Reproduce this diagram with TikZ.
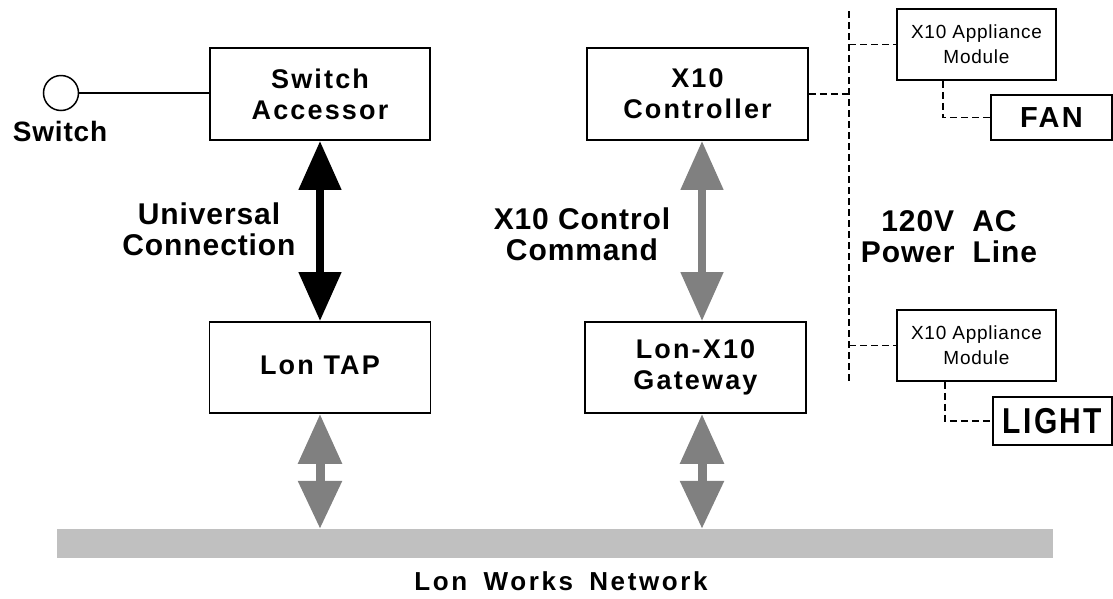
\documentclass[tikz,border=0pt]{standalone}
\usepackage{fontspec}
\setmainfont{Liberation Sans}
\newfontfamily\spacedfont{Liberation Sans}[LetterSpace=8]
\newfontfamily\netfont{Liberation Sans}[LetterSpace=10]
\newfontfamily\lblfont{Liberation Sans}[LetterSpace=3]
\newfontfamily\modfont{Liberation Sans}[LetterSpace=4]
\usetikzlibrary{arrows.meta,calc}
\definecolor{arrgray}{HTML}{808080}
\definecolor{bargray}{HTML}{C0C0C0}
\begin{document}
\begin{tikzpicture}[x=1pt,y=-1pt,
  box/.style={draw=black,line width=1.8pt,inner sep=0pt,align=center,
    font=\spacedfont\bfseries\fontsize{27}{31}\selectfont},
  modbox/.style={draw=black,line width=1.5pt,inner sep=0pt,align=center,
    minimum width=159pt,minimum height=71pt,
    font=\modfont\fontsize{19}{25}\selectfont},
  lbl/.style={inner sep=0pt,align=center,
    font=\lblfont\bfseries\fontsize{30}{31}\selectfont},
  dashln/.style={draw=black,line width=1.5pt,dash pattern=on 7pt off 4pt},
  bigarrow/.style={line width=8pt,
    {Triangle[length=49pt,width=41pt]}-{Triangle[length=49pt,width=41pt]}},
  smallarrow/.style={line width=9pt,
    {Triangle[length=50pt,width=42pt]}-{Triangle[length=48pt,width=42pt]}}
]
\useasboundingbox (0,0) rectangle (1113,598);

% boxes
\node[box,minimum width=220pt,minimum height=92pt] (sa) at (320,94) {Switch\\Accessor};
\node[box,minimum width=221pt,minimum height=91pt] (tap) at (320,367.5) {\raisebox{4pt}{Lon TAP}};
\node[box,minimum width=221pt,minimum height=92pt] (ctrl) at (697.5,94) {X10\\Controller};
\node[box,minimum width=221pt,minimum height=91pt] (gw) at (695.5,367.5) {Lon-X10\\Gateway};

\node[modbox] (mod1) at (976.5,44.5) {X10 Appliance\\Module};
\node[modbox] (mod2) at (976.5,345.5) {X10 Appliance\\Module};

\node[box,minimum width=121pt,minimum height=45pt,
  font=\spacedfont\bfseries\fontsize{29}{31}\selectfont] (fan) at (1051.5,117.5) {FAN};
\node[box,minimum width=119pt,minimum height=48pt,
  font=\spacedfont\bfseries\fontsize{30}{32}\selectfont] (light) at (1052.5,421) {\scalebox{1}[1.2]{LIGHT}};

% switch
\node[circle,draw=black,line width=1.5pt,minimum size=35pt,inner sep=0pt] (sw) at (61,93) {};
\node[lbl,font=\lblfont\bfseries\fontsize{28}{30}\selectfont] (swl) at (60,131) {Switch};
\draw[line width=1.5pt] (sw.east) -- (sw.east -| sa.west);

% labels
\node[lbl] (uc) at (209,229) {Universal\\Connection};
\node[lbl] (xc) at (582,234) {X10 Control\\Command};
\node[lbl] (pl) at (949,236.5) {120V\hspace{0.3em} AC\\Power\hspace{0.3em} Line};

% network bar
\node[fill=bargray,inner sep=0pt,minimum width=996pt,minimum height=29pt] (net) at (555,543.5) {};
\node[lbl,font=\netfont\bfseries\fontsize{26}{28}\selectfont] (netl) at (561,581)
  {Lon\hspace{0.25em} Works\hspace{0.25em} Network};

% arrows
\coordinate (ax) at (702,0);
\draw[bigarrow,draw=black] (sa.south) -- (tap.north);
\draw[bigarrow,draw=arrgray] (ax |- ctrl.south) -- (ax |- gw.north);
\draw[smallarrow,draw=arrgray] (tap.south) -- (tap.south |- net.north);
\draw[smallarrow,draw=arrgray] (ax |- gw.south) -- (ax |- net.north);

% power line
\coordinate (pltop) at (849,11);
\coordinate (plbot) at (849,384);
\draw[dashln] (pltop) -- (plbot);
\draw[dashln] (ctrl.east) -- (ctrl.east -| pltop);
\draw[dashln] (mod1.west -| pltop) -- (mod1.west);
\draw[dashln] (mod2.west -| pltop) -- (mod2.west);
\draw[dashln] ([xshift=-33.5pt]mod1.south) |- (fan.west);
\draw[dashln] ([xshift=-31.5pt]mod2.south) |- (light.west);
\end{tikzpicture}
\end{document}
